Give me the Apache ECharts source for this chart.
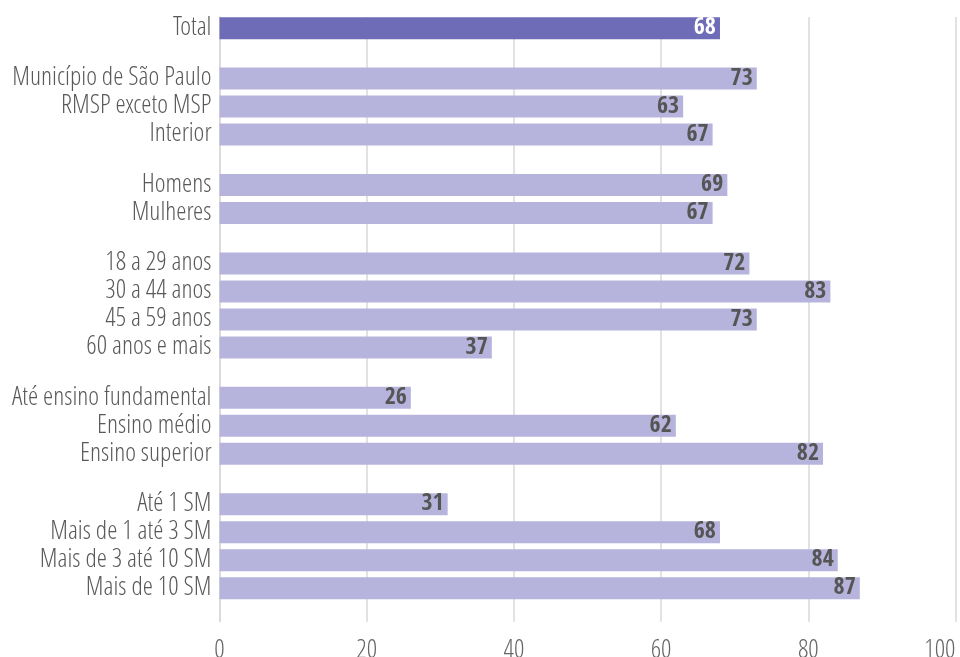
<!DOCTYPE html>
<html><head><meta charset="utf-8">
<script src="https://cdn.jsdelivr.net/npm/echarts@6/dist/echarts.min.js"></script>
<style>html,body{margin:0;padding:0;background:#fff}#c{width:960px;height:657px}</style>
</head><body><div id="c"></div>
<script>
// Groups of categories (each inner array is one visual group)
const groups = [
  ["Total"],
  ["Município de São Paulo", "RMSP exceto MSP", "Interior"],
  ["Homens", "Mulheres"],
  ["18 a 29 anos", "30 a 44 anos", "45 a 59 anos", "60 anos e mais"],
  ["Até ensino fundamental", "Ensino médio", "Ensino superior"],
  ["Até 1 SM", "Mais de 1 até 3 SM", "Mais de 3 até 10 SM", "Mais de 10 SM"]
];
const groupValues = [
  [68],
  [73, 63, 67],
  [69, 67],
  [72, 83, 73, 37],
  [26, 62, 82],
  [31, 68, 84, 87]
];
const xTicks = [0, 20, 40, 60, 80, 100];

// Build a fine-grained category axis so groups get a wider gap than rows
const ROW = 5, GAP = 9, PAD_TOP = 2, PAD_BOTTOM = 6;
const cats = [], vals = [];
function pushEmpty(n){ for(let i=0;i<n;i++){ cats.push(''); vals.push(null); } }
pushEmpty(PAD_TOP);
groups.forEach((g, gi) => {
  g.forEach((name, ri) => {
    cats.push(name);
    vals.push({value: groupValues[gi][ri], total: gi === 0});
    const last = ri === g.length - 1;
    if (!last) pushEmpty(ROW - 1);
    else if (gi < groups.length - 1) pushEmpty(GAP - 1);
  });
});
pushEmpty(PAD_BOTTOM);

const LIGHT = "'Open Sans Condensed Light', 'Open Sans', sans-serif";
const BOLD = "'Open Sans Condensed', 'Open Sans', sans-serif";
const chart = echarts.init(document.getElementById('c'), null, {renderer: 'canvas'});
chart.setOption({
  animation: false,
  grid: {left: 219.5, right: 4.5, top: 17, bottom: 35.2, containLabel: false, outerBoundsMode: 'none'},
  xAxis: {
    type: 'value', min: xTicks[0], max: xTicks[xTicks.length-1], interval: 20,
    axisLine: {show: false}, axisTick: {show: false},
    splitLine: {show: true, lineStyle: {color: '#d9d9d9', width: 1.5}},
    axisLabel: {color: '#666666', fontFamily: LIGHT, fontWeight: 'normal', fontSize: 26, margin: 16,
      alignMaxLabel: 'right', formatter: v => String(v)}
  },
  yAxis: {
    type: 'category', data: cats, inverse: true, boundaryGap: false,
    axisLine: {show: true, lineStyle: {color: '#d9d9d9', width: 1.5}},
    axisTick: {show: false},
    axisLabel: {interval: 0, color: '#595959', fontFamily: LIGHT, fontWeight: 'normal', fontSize: 26, margin: 8}
  },
  series: [{
    type: 'bar', barWidth: 22,
    data: vals.map(v => v === null ? null : {
      value: v.value,
      itemStyle: {color: v.total ? '#6e6bb7' : '#b6b4dc'},
      label: {color: v.total ? '#ffffff' : '#555555'}
    }),
    label: {
      show: true, position: 'insideRight', distance: 4,
      fontFamily: BOLD, fontWeight: 'bold', fontSize: 24
    }
  }]
});
</script></body></html>
